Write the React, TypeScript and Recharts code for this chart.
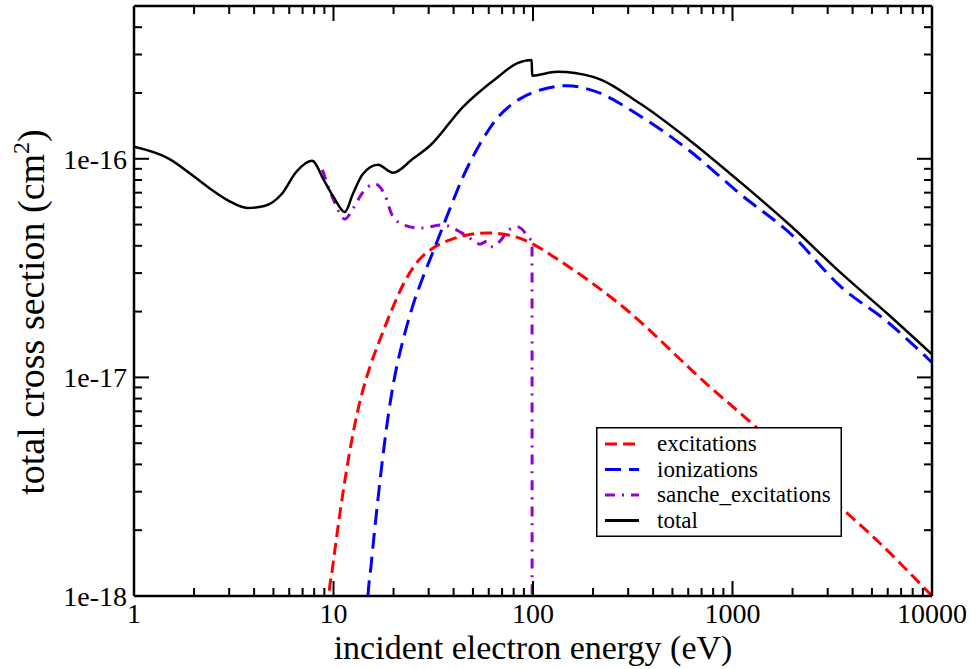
import React from 'react';
import { LineChart, Line, XAxis, YAxis, Legend } from 'recharts';

// energies (eV) and cross sections (cm^2)
const totalE = [1, 1.5, 2, 2.5, 3, 3.7, 4.5, 5.5, 6.5, 7.8, 9, 10, 11.4, 12.5, 14, 16.7, 19.9, 25, 30.5, 44.6, 66, 83, 98.5, 99, 132, 200, 344, 600, 1091, 2000, 3458, 6000, 10000];
const totalV = [1.135e-16, 1.0e-16, 8.3e-17, 7.13e-17, 6.41e-17, 5.96e-17, 6.08e-17, 6.9e-17, 8.7e-17, 9.79e-17, 7.9e-17, 6.7e-17, 5.71e-17, 6.9e-17, 8.5e-17, 9.4e-17, 8.63e-17, 1.0e-16, 1.15e-16, 1.73e-16, 2.35e-16, 2.73e-16, 2.83e-16, 2.4e-16, 2.5e-16, 2.37e-16, 1.79e-16, 1.23e-16, 7.84e-17, 4.85e-17, 3.03e-17, 1.95e-17, 1.275e-17];

const ionE = [14.5, 14.89, 15.42, 15.96, 16.72, 17.5, 18.33, 19.42, 20.81, 22.56, 25.03, 28.1, 31.5, 37.1, 44.6, 54.2, 66, 86, 110, 148, 200, 344, 600, 1091, 2000, 3458, 6000, 10000];
const ionV = [6e-19, 1e-18, 1.37e-18, 1.88e-18, 2.79e-18, 4.03e-18, 5.65e-18, 8.1e-18, 1.135e-17, 1.54e-17, 2.14e-17, 2.88e-17, 3.74e-17, 5.48e-17, 8.27e-17, 1.17e-16, 1.53e-16, 1.88e-16, 2.07e-16, 2.16e-16, 2.05e-16, 1.57e-16, 1.1e-16, 6.91e-17, 4.45e-17, 2.62e-17, 1.79e-17, 1.17e-17];

const excE = [9.3, 9.49, 9.83, 10.29, 10.78, 11.42, 12.1, 12.82, 13.9, 15.24, 17.1, 19.65, 22.83, 26.5, 30.5, 39.7, 58.8, 79.4, 100, 132, 283, 745, 1268, 3458, 5058, 10000];
const excV = [6e-19, 1e-18, 1.29e-18, 1.77e-18, 2.4e-18, 3.4e-18, 4.67e-18, 6.15e-18, 8.45e-18, 1.12e-17, 1.49e-17, 2.05e-17, 2.76e-17, 3.4e-17, 3.82e-17, 4.3e-17, 4.58e-17, 4.43e-17, 4.07e-17, 3.48e-17, 2.1e-17, 9.3e-18, 6.09e-18, 2.56e-18, 1.87e-18, 1e-18];

const sancheE = [8.8, 10, 11.4, 12.5, 14, 16.1, 18, 19.9, 23, 27.2, 35.4, 40, 46.7, 54.2, 59, 63, 68.3, 76.7, 84, 96.6, 98.9, 99];
const sancheV = [8.9e-17, 6.5e-17, 5.3e-17, 5.9e-17, 7.0e-17, 7.68e-17, 6.9e-17, 5.42e-17, 4.95e-17, 4.82e-17, 4.98e-17, 4.8e-17, 4.43e-17, 4.07e-17, 4.2e-17, 3.95e-17, 4.2e-17, 4.77e-17, 4.87e-17, 4.3e-17, 4.2e-17, 1e-19];

const xMajor = [1, 10, 100, 1000, 10000];
const xMajorLabels = ['1', '10', '100', '1000', '10000'];
const xMinor = [2, 3, 4, 5, 6, 7, 8, 9, 20, 30, 40, 50, 60, 70, 80, 90, 200, 300, 400, 500, 600, 700, 800, 900, 2000, 3000, 4000, 5000, 6000, 7000, 8000, 9000];
const yMajor = [1e-18, 1e-17, 1e-16];
const yMajorLabels = ['1e-18', '1e-17', '1e-16'];
const yMinor = [2e-18, 3e-18, 4e-18, 5e-18, 6e-18, 7e-18, 8e-18, 9e-18, 2e-17, 3e-17, 4e-17, 5e-17, 6e-17, 7e-17, 8e-17, 9e-17, 2e-16, 3e-16, 4e-16];

const seriesNames = ['excitations', 'ionizations', 'sanche_excitations', 'total'];
const seriesColors = ['#ff0000', '#0000ff', '#9400d3', '#000000'];
const seriesDash = ['12 6', '16 8', '10 7 2 7', ''];

const pts = (xs: number[], ys: number[]) => xs.map((x, i) => ({ x, y: ys[i] }));
const seriesData = [pts(excE, excV), pts(ionE, ionV), pts(sancheE, sancheV), pts(totalE, totalV)];

const FONT = '"Liberation Serif", "Times New Roman", serif';
const MAJ = 15;
const MIN = 8;

const BottomTick = (p: any) => {
  const i = xMajor.indexOf(p.payload.value);
  const len = i >= 0 ? MAJ : MIN;
  return (
    <g>
      <line x1={p.x} y1={p.y} x2={p.x} y2={p.y - len} stroke="#000" strokeWidth={2} />
      {i >= 0 && (
        <text x={p.x} y={p.y + 27} textAnchor="middle" fontFamily={FONT} fontSize={28} fill="#000">
          {xMajorLabels[i]}
        </text>
      )}
    </g>
  );
};

const TopTick = (p: any) => {
  const len = xMajor.indexOf(p.payload.value) >= 0 ? MAJ : MIN;
  return <line x1={p.x} y1={p.y} x2={p.x} y2={p.y + len} stroke="#000" strokeWidth={2} />;
};

const LeftTick = (p: any) => {
  const i = yMajor.indexOf(p.payload.value);
  const len = i >= 0 ? MAJ : MIN;
  return (
    <g>
      <line x1={p.x} y1={p.y} x2={p.x + len} y2={p.y} stroke="#000" strokeWidth={2} />
      {i >= 0 && (
        <text x={p.x - 7} y={p.y + 10} textAnchor="end" fontFamily={FONT} fontSize={28} fill="#000">
          {yMajorLabels[i]}
        </text>
      )}
    </g>
  );
};

const RightTick = (p: any) => {
  const len = yMajor.indexOf(p.payload.value) >= 0 ? MAJ : MIN;
  return <line x1={p.x} y1={p.y} x2={p.x - len} y2={p.y} stroke="#000" strokeWidth={2} />;
};

const LegendBox = () => (
  <svg width={246} height={110} style={{ display: 'block', background: '#fff' }}>
    <rect x={0.75} y={0.75} width={244.5} height={108.5} fill="#fff" stroke="#000" strokeWidth={1.5} />
    {seriesNames.map((name, i) => {
      const cy = 17 + i * 25.5;
      return (
        <g key={name}>
          <line x1={9} y1={cy} x2={43} y2={cy} stroke={seriesColors[i]} strokeWidth={3}
            strokeDasharray={seriesDash[i] || undefined} />
          <text x={61} y={cy + 7} fontFamily={FONT} fontSize={23} fill="#000">{name}</text>
        </g>
      );
    })}
  </svg>
);

export default function App() {
  const axisStyle = { stroke: '#000', strokeWidth: 2.5 };
  return (
    <div style={{ position: 'absolute', left: 0, top: 0, background: '#fff' }}>
      <LineChart width={975} height={669} margin={{ top: 5, right: 42, bottom: 72, left: 133 }}>
        <XAxis xAxisId={0} dataKey="x" type="number" scale="log" domain={[1, 10000]} allowDataOverflow
          ticks={[...xMajor, ...xMinor]} interval={0} height={1} tickSize={0} tickMargin={0}
          axisLine={axisStyle} tickLine={false} tick={<BottomTick />} />
        <XAxis xAxisId="top" orientation="top" dataKey="x" type="number" scale="log" domain={[1, 10000]} allowDataOverflow
          ticks={[...xMajor, ...xMinor]} interval={0} height={1} tickSize={0} tickMargin={0}
          axisLine={axisStyle} tickLine={false} tick={<TopTick />} />
        <YAxis yAxisId={0} type="number" scale="log" domain={[1e-18, 5e-16]} allowDataOverflow
          ticks={[...yMajor, ...yMinor]} interval={0} width={1} tickSize={0} tickMargin={0}
          axisLine={axisStyle} tickLine={false} tick={<LeftTick />} />
        <YAxis yAxisId="right" orientation="right" type="number" scale="log" domain={[1e-18, 5e-16]} allowDataOverflow
          ticks={[...yMajor, ...yMinor]} interval={0} width={1} tickSize={0} tickMargin={0}
          axisLine={axisStyle} tickLine={false} tick={<RightTick />} />
        {seriesNames.map((name, i) => (
          <Line key={name} name={name} data={seriesData[i]} dataKey="y" xAxisId={0} yAxisId={0}
            type="monotone" stroke={seriesColors[i]} strokeWidth={i === 3 ? 2.5 : 3}
            strokeDasharray={seriesDash[i] || undefined} dot={false} activeDot={false}
            isAnimationActive={false} />
        ))}
        <Legend layout="vertical" align="center" verticalAlign="middle" content={<LegendBox />}
          wrapperStyle={{ left: 596, top: 427, width: 246, height: 110 }} />
        <text x={533} y={659} textAnchor="middle" fontFamily={FONT} fontSize={34} fill="#000">
          incident electron energy (eV)
        </text>
        <text x={44} y={312} textAnchor="middle" fontFamily={FONT} fontSize={38} fill="#000"
          transform="rotate(-90 44 312)">
          total cross section (cm<tspan dy={-15} fontSize={24}>2</tspan><tspan dy={15}>)</tspan>
        </text>
      </LineChart>
    </div>
  );
}
